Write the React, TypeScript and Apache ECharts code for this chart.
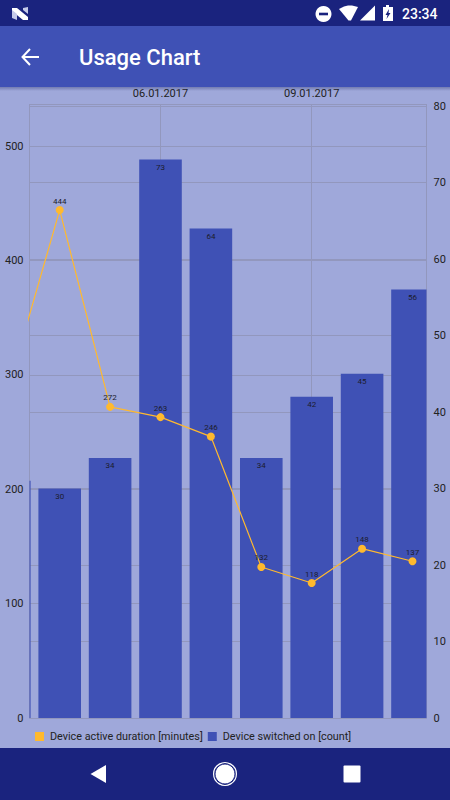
import React, { useEffect, useRef } from "react";
import * as echarts from "echarts";

const days = [3, 4, 5, 6, 7, 8, 9, 10, 11];
const durationMinutes = [291, 444, 272, 263, 246, 132, 118, 148, 137];
const switchedOnCount = [31, 30, 34, 73, 64, 34, 42, 45, 56];
const labelledDays = [6, 9];
const leftTicks = [0, 100, 200, 300, 400, 500];
const rightTicks = [0, 10, 20, 30, 40, 50, 60, 70, 80];
const durationName = "Device active duration [minutes]";
const countName = "Device switched on [count]";
const title = "Usage Chart";
const clock = "23:34";

const INDIGO = "#3f51b5";
const DARK = "#1a237e";
const PAGE = "#9fa8da";
const AMBER = "#ffb92e";
const GRID = "#9297bd";
const FONT = "Roboto";
const X_MIN = 3.4008;
const X_MAX = 11.278;

const fmtDay = (d: number) => `${String(d).padStart(2, "0")}.01.2017`;

function chrome(): any[] {
  const white = { fill: "#fff" };
  return [
    { type: "rect", z: 20, shape: { x: 0, y: 0, width: 450, height: 26 }, style: { fill: DARK } },
    { type: "rect", z: 20, shape: { x: 0, y: 26, width: 450, height: 61 }, style: { fill: INDIGO } },
    {
      type: "rect", z: 19, shape: { x: 0, y: 87, width: 450, height: 4 },
      style: {
        fill: new echarts.graphic.LinearGradient(0, 0, 0, 1, [
          { offset: 0, color: "rgba(40,50,110,0.38)" },
          { offset: 1, color: "rgba(40,50,110,0)" },
        ]),
      },
    },
    { type: "rect", z: 20, shape: { x: 0, y: 748, width: 450, height: 52 }, style: { fill: DARK } },
    // Notification "N" logo
    { type: "polygon", z: 21, shape: { points: [[12, 8], [17, 8], [28, 17], [28, 20], [23, 20], [12, 11]] }, style: white },
    { type: "polygon", z: 21, shape: { points: [[12, 10], [17, 14], [17, 20], [12, 18]] }, style: { fill: "#c5cae9" } },
    { type: "polygon", z: 21, shape: { points: [[23, 8], [28, 7], [28, 14], [23, 10]] }, style: { fill: "#c5cae9" } },
    // Back arrow
    { type: "polyline", z: 21, shape: { points: [[39, 57], [23, 57]] }, style: { stroke: "#fff", lineWidth: 2, fill: "none" } },
    { type: "polyline", z: 21, shape: { points: [[30, 49], [22.5, 57], [30, 65]] }, style: { stroke: "#fff", lineWidth: 2, fill: "none" } },
    { type: "text", z: 21, x: 79, y: 57, style: { text: title, fill: "#fff", font: `500 22px ${FONT}`, textVerticalAlign: "middle" } },
    // Status icons
    { type: "circle", z: 21, shape: { cx: 323.5, cy: 14, r: 8 }, style: white },
    { type: "rect", z: 22, shape: { x: 319, y: 12.7, width: 9, height: 2.6 }, style: { fill: DARK } },
    { type: "polygon", z: 21, shape: { points: [[339, 9], [344, 6.5], [348, 5.5], [352, 5.5], [356, 6.5], [358, 7], [351, 20.5], [348.5, 20.5]] }, style: white },
    { type: "polygon", z: 21, shape: { points: [[360, 20.5], [375, 5.5], [375, 20.5]] }, style: white },
    { type: "polygon", z: 21, shape: { points: [[383, 7], [386, 7], [386, 5], [389, 5], [389, 7], [393, 7], [393, 21], [383, 21]] }, style: white },
    { type: "polygon", z: 22, shape: { points: [[389, 9], [385.5, 15], [387.5, 15], [386.5, 19], [390.5, 13], [388.5, 13]] }, style: { fill: DARK } },
    { type: "text", z: 21, x: 402, y: 14, style: { text: clock, fill: "#fff", font: `500 14px ${FONT}`, textVerticalAlign: "middle" } },
    // Navigation buttons
    { type: "polygon", z: 21, shape: { points: [[90.5, 774], [106, 765], [106, 783]] }, style: white },
    { type: "circle", z: 21, shape: { cx: 225, cy: 774, r: 10 }, style: { fill: "#fff", stroke: DARK, lineWidth: 1 } },
    { type: "circle", z: 21, shape: { cx: 225, cy: 774, r: 11.4 }, style: { fill: "none", stroke: "#fff", lineWidth: 1.2 } },
    { type: "rect", z: 21, shape: { x: 343.5, y: 765.5, width: 17, height: 17, r: 1 }, style: white },
  ];
}

function renderBar(params: any, api: any) {
  const day = api.value(0);
  const count = api.value(1);
  const [cx, top] = api.coord([day, count]);
  const [, base] = api.coord([day, 0]);
  const halfWidth = api.size([1, 0])[0] * 0.4225;
  const cs = params.coordSys;
  const shape = echarts.graphic.clipRectByRect(
    { x: cx - halfWidth, y: top, width: halfWidth * 2, height: base - top },
    { x: cs.x, y: cs.y, width: cs.width, height: cs.height }
  );
  if (!shape) return null;
  const children: any[] = [{ type: "rect", shape, style: { fill: INDIGO } }];
  if (day >= X_MIN) {
    children.push({
      type: "text",
      x: cx,
      y: top + 4,
      style: { text: String(count), fill: "#1c1c2c", font: `8px ${FONT}`, textAlign: "center", textVerticalAlign: "top" },
    });
  }
  return { type: "group", children };
}

export default function App() {
  const ref = useRef<HTMLDivElement>(null);

  useEffect(() => {
    document.body.style.margin = "0";
    document.body.style.background = PAGE;
    const chart = echarts.init(ref.current!, null, { renderer: "svg", width: 450, height: 800 });
    chart.setOption({
      animation: false,
      backgroundColor: PAGE,
      textStyle: { fontFamily: FONT },
      grid: { left: 29.5, top: 104.5, width: 397, height: 613.5, containLabel: false },
      legend: {
        left: 35,
        top: 731,
        padding: 0,
        itemWidth: 9,
        itemHeight: 9,
        itemGap: 5,
        icon: "rect",
        selectedMode: false,
        textStyle: { fontFamily: FONT, fontSize: 10.8, color: "#222", padding: [0, 0, 0, 1] },
        data: [
          { name: durationName, itemStyle: { color: AMBER } },
          { name: countName, itemStyle: { color: INDIGO } },
        ],
      },
      xAxis: {
        type: "value",
        position: "top",
        min: X_MIN,
        max: X_MAX,
        axisLine: { show: true, onZero: false, lineStyle: { color: GRID, width: 1 } },
        axisTick: { show: false, customValues: labelledDays },
        splitLine: { show: true, lineStyle: { color: GRID, width: 1 } },
        axisLabel: {
          customValues: labelledDays,
          formatter: (v: number) => fmtDay(v),
          fontFamily: FONT,
          fontSize: 11,
          color: "#222",
          margin: 6,
        },
      },
      yAxis: [
        {
          type: "value",
          min: 0,
          max: 536.3,
          position: "left",
          axisLine: { show: true, lineStyle: { color: GRID, width: 1 } },
          axisTick: { show: false, customValues: [...leftTicks, 536.3] },
          splitLine: { show: true, lineStyle: { color: GRID, width: 1 } },
          axisLabel: { customValues: leftTicks, fontFamily: FONT, fontSize: 11, color: "#222", margin: 6 },
        },
        {
          type: "value",
          min: 0,
          max: 80.2,
          position: "right",
          axisLine: { show: true, lineStyle: { color: GRID, width: 1 } },
          axisTick: { show: false, customValues: rightTicks },
          splitLine: { show: true, lineStyle: { color: GRID, width: 1 } },
          axisLabel: { customValues: rightTicks, fontFamily: FONT, fontSize: 11, color: "#222", margin: 7 },
        },
      ],
      series: [
        {
          name: countName,
          type: "custom",
          yAxisIndex: 1,
          clip: false,
          renderItem: renderBar,
          encode: { x: 0, y: 1 },
          itemStyle: { color: INDIGO },
          data: days.map((d, i) => [d, switchedOnCount[i]]),
          z: 2,
        },
        {
          name: durationName,
          type: "line",
          yAxisIndex: 0,
          clip: true,
          symbol: "circle",
          symbolSize: 8,
          lineStyle: { color: AMBER, width: 1.2 },
          itemStyle: { color: AMBER },
          label: {
            show: true,
            position: "top",
            distance: 1,
            fontFamily: FONT,
            fontSize: 8,
            color: "#1c1c2c",
            formatter: (p: any) => (p.value[0] < X_MIN ? "" : String(p.value[1])),
          },
          data: days.map((d, i) => [d, durationMinutes[i]]),
          z: 3,
        },
      ],
      graphic: { elements: chrome() },
    });
    return () => chart.dispose();
  }, []);

  return <div ref={ref} style={{ position: "absolute", left: 0, top: 0, width: 450, height: 800 }} />;
}
